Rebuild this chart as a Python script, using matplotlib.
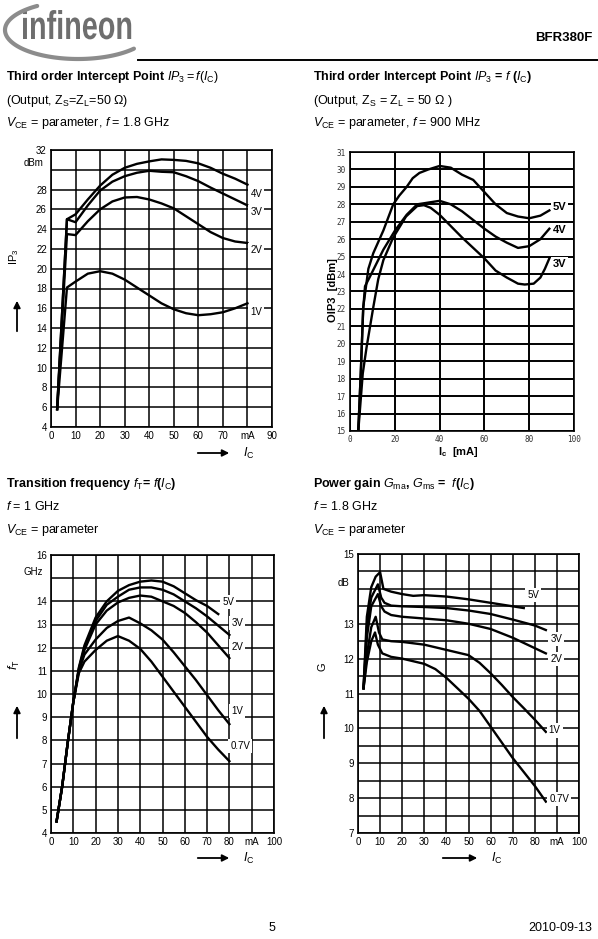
import numpy as np
import matplotlib
matplotlib.use("Agg")
import matplotlib.pyplot as plt
from matplotlib.patches import PathPatch
from matplotlib.textpath import TextPath
from matplotlib.font_manager import FontProperties
from matplotlib.transforms import Affine2D

plt.rcParams['font.family'] = ['Liberation Sans', 'DejaVu Sans']
plt.rcParams['mathtext.fontset'] = 'custom'
plt.rcParams['mathtext.rm'] = 'Liberation Sans'
plt.rcParams['mathtext.it'] = 'Liberation Sans:italic'
plt.rcParams['mathtext.bf'] = 'Liberation Sans:bold'

# ---- chart 1: IP3 = f(IC), 1.8 GHz ----
ic1 = [2.5, 6.5, 10, 15, 20, 25, 30, 35, 40, 45, 50, 55, 60, 65, 70, 75, 80]
ip3_4v = [5.8, 25.0, 25.5, 27.0, 28.4, 29.5, 30.2, 30.6, 30.85, 31.05, 31.0, 30.9, 30.65, 30.2, 29.6, 29.1, 28.5]
ip3_3v = [5.8, 25.0, 24.7, 26.4, 27.9, 28.8, 29.35, 29.7, 29.9, 29.8, 29.75, 29.35, 28.85, 28.2, 27.6, 27.0, 26.4]
ip3_2v = [5.8, 23.5, 23.4, 24.8, 26.0, 26.8, 27.2, 27.25, 27.0, 26.6, 26.1, 25.3, 24.5, 23.7, 23.1, 22.75, 22.6]
ip3_1v = [5.8, 18.1, 18.7, 19.5, 19.75, 19.5, 18.9, 18.1, 17.3, 16.5, 15.9, 15.5, 15.3, 15.4, 15.6, 16.0, 16.5]
labels1 = ['4V', '3V', '2V', '1V']
label_y1 = [27.6, 25.7, 21.9, 15.6]

# ---- chart 2: OIP3 = f(IC), 900 MHz ----
ic2_5v = [3.7, 4.8, 5.9, 8.2, 10.4, 14.9, 19.3, 22, 25.3, 28, 31, 35, 40, 45, 50, 55, 60, 65, 70, 75, 80, 85, 89]
oip3_5v = [15.0, 18.3, 22.1, 24.3, 25.2, 26.5, 28.0, 28.5, 29.0, 29.5, 29.8, 30.0, 30.2, 30.1, 29.7, 29.4, 28.7, 28.0, 27.5, 27.3, 27.2, 27.35, 27.65]
ic2_4v = [3.7, 4.8, 5.9, 6.7, 8.9, 14.9, 20.1, 25.3, 30, 35, 40, 45, 50, 55, 60, 65, 70, 75, 80, 85, 89]
oip3_4v = [15.0, 18.3, 22.0, 23.3, 23.85, 25.4, 26.5, 27.4, 28.0, 28.1, 28.2, 28.0, 27.6, 27.1, 26.6, 26.15, 25.8, 25.5, 25.6, 26.0, 26.6]
ic2_3v = [3.7, 5.7, 7.4, 10.4, 12.6, 14.9, 19.3, 25, 30, 33, 36, 40, 45, 50, 55, 60, 65, 70, 75, 78, 82, 85, 87, 89]
oip3_3v = [15.0, 18.3, 19.8, 22.1, 23.7, 24.8, 26.1, 27.3, 27.9, 27.95, 27.8, 27.4, 26.75, 26.1, 25.5, 24.9, 24.2, 23.8, 23.45, 23.4, 23.45, 23.8, 24.3, 24.9]
labels2 = ['5V', '4V', '3V']
label_y2 = [27.85, 26.55, 24.6]

# ---- chart 3: fT = f(IC) ----
ic3 = [2.5, 5, 7.5, 10, 12.5, 15, 20, 25, 30, 35, 40, 45, 50, 55, 60, 65, 70, 75, 80]
ft_5v = [4.5, 6.0, 7.9, 9.65, 11.15, 12.1, 13.3, 14.0, 14.45, 14.7, 14.85, 14.9, 14.85, 14.65, 14.35, 14.05, 13.8, 13.45]
ft_3v = [4.5, 6.0, 7.9, 9.65, 11.1, 12.0, 13.15, 13.85, 14.2, 14.5, 14.6, 14.6, 14.5, 14.3, 14.0, 13.7, 13.35, 12.95, 12.55]
ft_2v = [4.5, 6.0, 7.9, 9.65, 11.05, 11.9, 13.0, 13.6, 13.95, 14.15, 14.25, 14.2, 14.0, 13.8, 13.5, 13.1, 12.65, 12.1, 11.55]
ft_1v = [4.5, 6.0, 7.9, 9.65, 11.0, 11.7, 12.35, 12.85, 13.15, 13.3, 13.05, 12.75, 12.35, 11.8, 11.2, 10.6, 9.95, 9.3, 8.7]
ft_07v = [4.5, 6.0, 7.9, 9.65, 10.9, 11.4, 11.9, 12.3, 12.5, 12.3, 11.95, 11.4, 10.75, 10.1, 9.45, 8.8, 8.15, 7.6, 7.1]
labels3 = ['5V', '3V', '2V', '1V', '0.7V']
label_xy3 = [(79.5, 13.99), (83.6, 13.08), (83.6, 12.05), (83.6, 9.25), (84.8, 7.77)]

# ---- chart 4: Gma, Gms = f(IC) ----
ic4_5v = [2.5, 4, 6, 8, 10, 11.5, 15, 20, 25, 30, 40, 50, 60, 70, 75]
g_5v = [11.15, 13.2, 14.05, 14.35, 14.48, 14.0, 13.92, 13.85, 13.8, 13.82, 13.78, 13.7, 13.6, 13.5, 13.45]
ic4_3v = [2.5, 4, 6, 9, 10.5, 12, 15, 20, 30, 40, 50, 60, 70, 80, 85]
g_3v = [11.15, 12.9, 13.75, 14.13, 13.75, 13.6, 13.52, 13.5, 13.48, 13.45, 13.38, 13.28, 13.12, 12.95, 12.82]
ic4_2v = [2.5, 4, 6, 9, 10.5, 12, 15, 20, 30, 40, 50, 60, 70, 80, 85]
g_2v = [11.15, 12.6, 13.5, 13.85, 13.5, 13.35, 13.25, 13.2, 13.15, 13.1, 13.0, 12.85, 12.6, 12.3, 12.15]
ic4_1v = [2.5, 4, 6, 8, 9.5, 11, 15, 20, 30, 40, 50, 55, 60, 65, 70, 75, 80, 85]
g_1v = [11.15, 12.1, 12.9, 13.2, 12.75, 12.55, 12.5, 12.48, 12.4, 12.25, 12.1, 11.88, 11.58, 11.25, 10.9, 10.58, 10.25, 9.9]
ic4_07v = [2.5, 4, 6, 7.7, 9, 11, 15, 20, 30, 35, 40, 45, 50, 55, 60, 65, 70, 75, 80, 85]
g_07v = [11.15, 11.9, 12.5, 12.75, 12.4, 12.15, 12.05, 12.0, 11.85, 11.7, 11.45, 11.15, 10.85, 10.5, 10.05, 9.6, 9.15, 8.75, 8.35, 7.9]
labels4 = ['5V', '3V', '2V', '1V', '0.7V']
label_xy4 = [(79.2, 13.83), (89.7, 12.56), (89.7, 12.0), (89.0, 9.94), (91.0, 7.97)]

W, H = 598, 939
fig = plt.figure(figsize=(W / 100, H / 100), dpi=100)
fig.patch.set_facecolor('white')

# page overlay in pixel coordinates
pg = fig.add_axes([0, 0, 1, 1])
pg.set_xlim(0, W)
pg.set_ylim(H, 0)
pg.axis('off')


def px_axes(left, top, right, bottom):
    return fig.add_axes([left / W, 1 - bottom / H, (right - left) / W, (bottom - top) / H])


def style(ax, xmax, xstep, ymin, ymax, ystep, lw=1.0):
    ax.set_xlim(0, xmax)
    ax.set_ylim(ymin, ymax)
    ax.set_xticks(np.arange(0, xmax + 0.01, xstep))
    ax.set_yticks(np.arange(ymin, ymax + 0.01, ystep))
    ax.grid(True, color='black', lw=lw)
    ax.tick_params(length=0, pad=3, labelsize=7)
    for s in ax.spines.values():
        s.set_linewidth(1.2)
    ax.set_axisbelow(True)


def vlabel(ax, x, y, s, **kw):
    ax.text(x, y, s, ha='center', va='center', fontsize=7,
            bbox=dict(facecolor='white', edgecolor='none', pad=1.5), zorder=5, **kw)


CW = 1.7

# chart 1
ax1 = px_axes(51, 150, 272, 427)
style(ax1, 90, 10, 4, 32, 2, lw=1.1)
ax1.set_xticklabels(['0', '10', '20', '30', '40', '50', '60', '70', 'mA', '90'])
ax1.set_yticklabels([str(v) if v != 30 else '' for v in range(4, 33, 2)])
for ys, lab, ly in zip([ip3_4v, ip3_3v, ip3_2v, ip3_1v], labels1, label_y1):
    ax1.plot(ic1, ys, color='black', lw=CW)
    vlabel(ax1, 83.6, ly, lab)
pg.text(44, 163, 'dBm', fontsize=7, ha='right', va='center')

# chart 2
ax2 = px_axes(350, 152, 574, 431)
style(ax2, 100, 20, 15, 31, 1, lw=1.4)
for t in ax2.get_xticklabels() + ax2.get_yticklabels():
    t.set_fontfamily('DejaVu Sans Mono')
    t.set_fontsize(5.5)
    t.set_color('#333333')
for xs, ys, lab, ly in zip([ic2_5v, ic2_4v, ic2_3v], [oip3_5v, oip3_4v, oip3_3v], labels2, label_y2):
    ax2.plot(xs, ys, color='black', lw=CW)
    ax2.text(93.5, ly, lab, ha='center', va='center', fontsize=8, fontweight='bold',
             bbox=dict(facecolor='white', edgecolor='none', pad=1.0), zorder=5)

# chart 3
ax3 = px_axes(51, 555, 274, 833)
style(ax3, 100, 10, 4, 16, 1, lw=1.1)
ax3.set_xticklabels(['0', '10', '20', '30', '40', '50', '60', '70', '80', 'mA', '100'])
ax3.set_yticklabels([str(v) if v != 15 else '' for v in range(4, 17)])
ft_all = [ft_5v, ft_3v, ft_2v, ft_1v, ft_07v]
for ys, lab, (lx, ly) in zip(ft_all, labels3, label_xy3):
    ax3.plot(ic3[:len(ys)], ys, color='black', lw=CW)
    vlabel(ax3, lx, ly, lab)
pg.text(33, 572, 'GHz', fontsize=7, ha='center', va='center')

# chart 4
ax4 = px_axes(358, 554, 579, 833)
style(ax4, 100, 10, 7, 15, 0.5, lw=1.1)
ax4.set_xticklabels(['0', '10', '20', '30', '40', '50', '60', '70', '80', 'mA', '100'])
ax4.set_yticklabels([('%d' % v if v != 14 else '') if v == int(v) else '' for v in np.arange(7, 15.01, 0.5)])
for xs, ys, lab, (lx, ly) in zip([ic4_5v, ic4_3v, ic4_2v, ic4_1v, ic4_07v],
                                 [g_5v, g_3v, g_2v, g_1v, g_07v], labels4, label_xy4):
    ax4.plot(xs, ys, color='black', lw=CW)
    vlabel(ax4, lx, ly, lab)
pg.text(343, 583, 'dB', fontsize=7, ha='center', va='center')

# axis names and arrows
arrow = dict(arrowstyle='-|>', color='black', lw=1.3, mutation_scale=10)
pg.text(14, 257, 'IP$_3$', rotation=90, fontsize=8, ha='center', va='center')
pg.annotate('', xy=(17, 298), xytext=(17, 334), arrowprops=arrow)
pg.annotate('', xy=(232, 453), xytext=(195, 453), arrowprops=arrow)
pg.text(243, 453, '$I_\\mathrm{C}$', fontsize=9, ha='left', va='center')

pg.text(333, 290, 'OIP3  [dBm]', rotation=90, fontsize=8, fontweight='bold', ha='center', va='center')
pg.text(458, 452, '$\\mathbf{I_c}$  [mA]', fontsize=8, fontweight='bold', ha='center', va='center')

pg.text(14, 665, '$f_\\mathrm{T}$', rotation=90, fontsize=9, ha='center', va='center')
pg.annotate('', xy=(17, 703), xytext=(17, 741), arrowprops=arrow)
pg.annotate('', xy=(232, 858), xytext=(195, 858), arrowprops=arrow)
pg.text(243, 858, '$I_\\mathrm{C}$', fontsize=9, ha='left', va='center')

pg.text(322, 667, 'G', rotation=90, fontsize=8, ha='center', va='center')
pg.annotate('', xy=(324, 703), xytext=(324, 741), arrowprops=arrow)
pg.annotate('', xy=(480, 858), xytext=(440, 858), arrowprops=arrow)
pg.text(491, 858, '$I_\\mathrm{C}$', fontsize=9, ha='left', va='center')

# titles
TS = 9
pg.text(6, 77, 'Third order Intercept Point $IP_3\\mathrm{=}f(I_\\mathrm{C})$', fontsize=TS, fontweight='bold', va='center')
pg.text(6, 101, '(Output, Z$_\\mathrm{S}$=Z$_\\mathrm{L}$=50 \u03a9)', fontsize=TS, va='center')
pg.text(6, 123, '$V_\\mathrm{CE}$ = parameter, $f$ = 1.8 GHz', fontsize=TS, va='center')

pg.text(313, 77, 'Third order Intercept Point $IP_3$ = $f$ ($I_\\mathrm{C}$)', fontsize=TS, fontweight='bold', va='center')
pg.text(313, 101, '(Output, Z$_\\mathrm{S}$ = Z$_\\mathrm{L}$ = 50 \u03a9 )', fontsize=TS, va='center')
pg.text(313, 123, '$V_\\mathrm{CE}$ = parameter, $f$ = 900 MHz', fontsize=TS, va='center')

pg.text(6, 484, 'Transition frequency $f_\\mathrm{T}$= $f$($I_\\mathrm{C}$)', fontsize=TS, fontweight='bold', va='center')
pg.text(6, 507, '$f$ = 1 GHz', fontsize=TS, va='center')
pg.text(6, 530, '$V_\\mathrm{CE}$ = parameter', fontsize=TS, va='center')

pg.text(313, 484, 'Power gain $G_\\mathrm{ma}$, $G_\\mathrm{ms}$ =  $f$($I_\\mathrm{C}$)', fontsize=TS, fontweight='bold', va='center')
pg.text(313, 507, '$f$ = 1.8 GHz', fontsize=TS, va='center')
pg.text(313, 530, '$V_\\mathrm{CE}$ = parameter', fontsize=TS, va='center')

# header: logo text squeezed horizontally, swoosh round it
tp = TextPath((0, 0), 'infineon', size=40, prop=FontProperties(family='Liberation Sans', weight='bold'))
logo_tr = Affine2D().scale(0.72, -1).translate(21, 39)
pg.add_patch(PathPatch(logo_tr.transform_path(tp), facecolor='#6e6e6e', edgecolor='none'))
t = np.radians(np.linspace(40, 236, 120))
pg.plot(78 + 73 * np.cos(t), 30 + 29 * np.sin(t), color='#8c8c8c', lw=3.0, solid_capstyle='round')
pg.text(592, 38, 'BFR380F', fontsize=9.5, fontweight='bold', ha='right', va='center')
pg.plot([138, 598], [60, 60], color='black', lw=1.4)

# footer
pg.text(272, 928, '5', fontsize=9, ha='center', va='center')
pg.text(592, 928, '2010-09-13', fontsize=9, ha='right', va='center')

fig.savefig('out.png', dpi=100)
